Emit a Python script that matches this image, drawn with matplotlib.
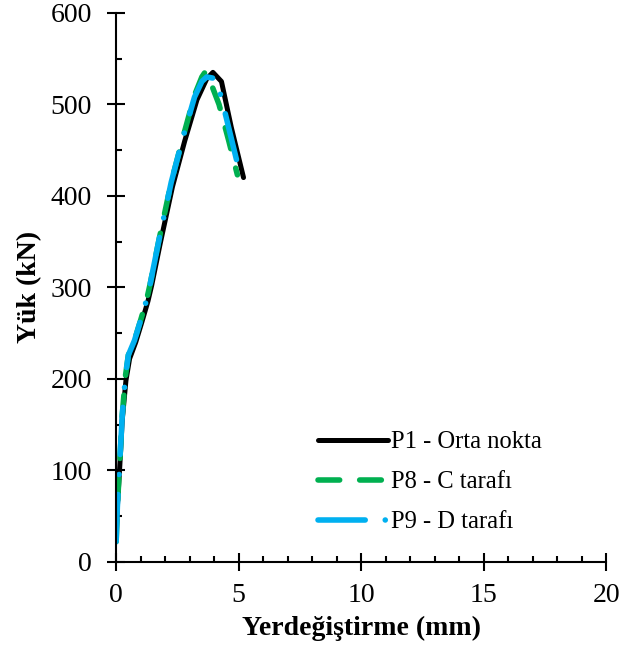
import matplotlib.pyplot as plt
from matplotlib.ticker import MultipleLocator

plt.rcParams['font.family'] = ['Liberation Serif', 'DejaVu Serif']

# P1 - Orta nokta
p1_x = [0.0, 0.05, 0.15, 0.25, 0.4, 0.55, 0.8, 1.05, 1.3, 1.45, 1.8, 2.3, 2.8, 3.3, 3.7, 3.95, 4.3, 4.7, 5.2]
p1_y = [25, 60, 105, 155, 198, 222, 240, 262, 285, 302, 348, 410, 460, 505, 528, 535, 525, 475, 420]
# P8 - C tarafı
p8_x = [0.0, 0.05, 0.15, 0.25, 0.38, 0.5, 0.75, 1.0, 1.25, 1.4, 1.75, 2.25, 2.75, 3.2, 3.5, 3.65, 3.8, 4.2, 4.6, 4.95]
p8_y = [22, 60, 110, 160, 203, 226, 242, 264, 287, 305, 352, 415, 466, 510, 530, 536, 528, 500, 460, 423]
# P9 - D tarafı
p9_x = [0.0, 0.05, 0.15, 0.25, 0.38, 0.5, 0.75, 1.0, 1.25, 1.4, 1.75, 2.25, 2.75, 3.2, 3.5, 3.7, 4.1, 4.5, 5.0]
p9_y = [22, 60, 110, 160, 203, 226, 242, 264, 287, 305, 352, 415, 466, 508, 525, 530, 528, 485, 430]

fig = plt.figure(figsize=(6.21, 6.45), dpi=100)
ax = fig.add_axes([0.187, 0.129, 0.789, 0.851])

ax.plot(p1_x, p1_y, color='black', lw=3.6, solid_capstyle='round', solid_joinstyle='round',
        label='P1 - Orta nokta')
ax.plot(p8_x, p8_y, color='#00b050', lw=4, dashes=(3.9, 3.6), dash_capstyle='round',
        label='P8 - C tarafı')
ax.plot(p9_x, p9_y, color='#00b0f0', lw=4, dashes=(8.5, 3.6, 0.01, 3.6), dash_capstyle='round',
        label='P9 - D tarafı')

ax.set_xlim(0, 20)
ax.set_ylim(0, 600)
ax.xaxis.set_major_locator(MultipleLocator(5))
ax.xaxis.set_minor_locator(MultipleLocator(1))
ax.yaxis.set_major_locator(MultipleLocator(100))
ax.yaxis.set_minor_locator(MultipleLocator(50))

for s in ['top', 'right']:
    ax.spines[s].set_visible(False)
for s in ['left', 'bottom']:
    ax.spines[s].set_linewidth(1.5)

ax.tick_params(which='major', direction='inout', length=13, width=1.5, labelsize=20)
ax.tick_params(which='minor', direction='in', length=4.5, width=1.5)
ax.tick_params(axis='x', which='major', pad=8.5)
ax.tick_params(axis='y', which='major', pad=11)

ax.set_xlabel('Yerdeğiştirme (mm)', fontsize=20, fontweight='bold', labelpad=6)
ax.set_ylabel('Yük (kN)', fontsize=20, fontweight='bold', labelpad=6)

ax.legend(loc='upper left', bbox_to_anchor=(0.412, 0.238), frameon=False, fontsize=17.7,
          handlelength=2.85, handletextpad=0.1, labelspacing=0.72, borderpad=0, borderaxespad=0)

fig.savefig('out.png', dpi=100)
